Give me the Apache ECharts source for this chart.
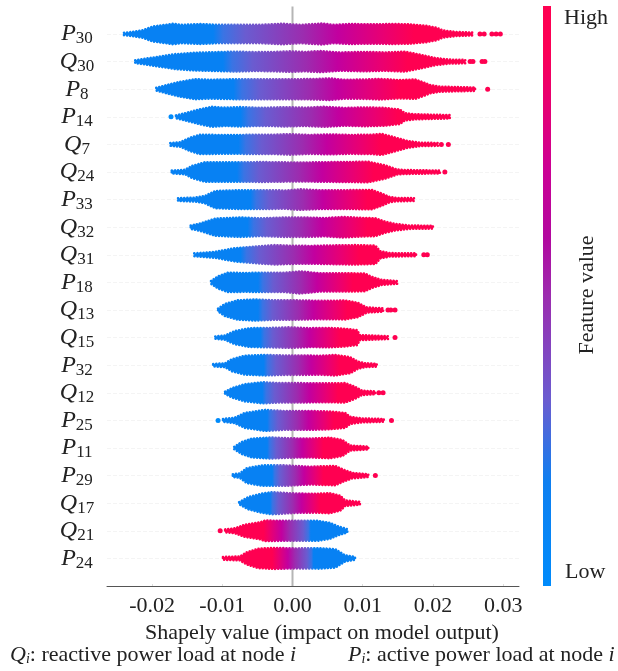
<!DOCTYPE html>
<html><head><meta charset="utf-8">
<style>html,body{margin:0;padding:0;background:#fff}#c{width:618px;height:671px}</style>
<script src="https://cdn.jsdelivr.net/npm/echarts@6/dist/echarts.min.js"></script>
</head><body><div id="c"></div>
<script>
// Feature names, top to bottom: [symbol, node]
const features = [['P','30'],['Q','30'],['P','8'],['P','14'],['Q','7'],['Q','24'],['P','33'],['Q','32'],['Q','31'],['P','18'],['Q','13'],['Q','15'],['P','32'],['Q','12'],['P','25'],['P','11'],['P','29'],['Q','17'],['Q','21'],['P','24']];
const xTicks = [-0.02,-0.01,0,0.01,0.02,0.03];

// Swarm outlines: [SHAP value, half thickness of the swarm in row units]
const P30 = [[-.0240,.04],[-.0230,.07],[-.0213,.14],[-.0199,.27],[-.0170,.37],[-.0157,.33],[-.0132,.36],[-.0107,.33],[-.0071,.33],[-.0046,.33],[-.0014,.37],[.0011,.33],[.0043,.38],[.0058,.33],[.0082,.36],[.0111,.35],[.0143,.36],[.0167,.35],[.0192,.29],[.0206,.22],[.0214,.13],[.0234,.07],[.0256,.05]];
const Q30 = [[-.0224,.05],[-.0203,.13],[-.0167,.27],[-.0139,.32],[-.0110,.34],[-.0082,.36],[-.0053,.34],[-.0025,.35],[-.0004,.37],[.0018,.35],[.0039,.38],[.0068,.33],[.0103,.35],[.0132,.33],[.0160,.36],[.0182,.25],[.0203,.13],[.0224,.07],[.0246,.06]];
const P8 = [[-.0194,.05],[-.0182,.13],[-.0160,.27],[-.0139,.36],[-.0118,.34],[-.0082,.36],[-.0053,.36],[-.0025,.36],[.0004,.36],[.0032,.37],[.0053,.39],[.0075,.34],[.0103,.35],[.0125,.37],[.0153,.33],[.0175,.35],[.0186,.25],[.0196,.15],[.0210,.09],[.0260,.06]];
const P14 = [[-.0166,.05],[-.0153,.13],[-.0132,.27],[-.0115,.36],[-.0096,.33],[-.0075,.35],[-.0053,.33],[-.0032,.33],[-.0011,.35],[.0018,.33],[.0046,.36],[.0075,.32],[.0103,.34],[.0132,.32],[.0153,.26],[.0160,.13],[.0175,.09],[.0224,.06]];
const Q7 = [[-.0174,.05],[-.0160,.08],[-.0146,.24],[-.0132,.35],[-.0103,.34],[-.0075,.34],[-.0053,.35],[-.0025,.35],[-.0004,.37],[.0025,.34],[.0053,.36],[.0082,.34],[.0113,.35],[.0127,.38],[.0146,.25],[.0163,.13],[.0182,.06],[.0207,.05]];
const Q24 = [[-.0172,.05],[-.0153,.08],[-.0143,.22],[-.0125,.35],[-.0096,.35],[-.0068,.35],[-.0043,.36],[-.0018,.35],[.0011,.34],[.0036,.35],[.0068,.36],[.0108,.37],[.0132,.24],[.0149,.09],[.0160,.07],[.0210,.05]];
const P33 = [[-.0163,.05],[-.0139,.07],[-.0125,.13],[-.0110,.31],[-.0075,.34],[-.0039,.34],[-.0011,.33],[.0011,.37],[.0039,.34],[.0075,.34],[.0113,.35],[.0127,.22],[.0139,.09],[.0149,.06],[.0173,.05]];
const Q32 = [[-.0145,.06],[-.0132,.13],[-.0110,.31],[-.0075,.35],[-.0046,.32],[-.0011,.35],[.0018,.35],[.0046,.33],[.0071,.37],[.0096,.34],[.0118,.32],[.0132,.20],[.0146,.12],[.0167,.06],[.0200,.05]];
const Q31 = [[-.0140,.05],[-.0110,.11],[-.0082,.24],[-.0068,.27],[-.0043,.32],[-.0025,.35],[-.0004,.33],[.0025,.32],[.0061,.34],[.0089,.35],[.0118,.33],[.0125,.13],[.0139,.06],[.0176,.05]];
const P18 = [[-.0116,.05],[-.0106,.22],[-.0092,.35],[-.0068,.34],[-.0039,.35],[-.0011,.35],[.0011,.40],[.0039,.33],[.0075,.33],[.0103,.32],[.0113,.20],[.0127,.09],[.0149,.05]];
const Q13 = [[-.0106,.05],[-.0096,.22],[-.0078,.35],[-.0053,.38],[-.0025,.35],[.0004,.35],[.0039,.33],[.0075,.34],[.0093,.26],[.0106,.09],[.0129,.06]];
const Q15 = [[-.0110,.04],[-.0096,.08],[-.0082,.24],[-.0061,.34],[-.0032,.35],[-.0004,.37],[.0025,.34],[.0053,.35],[.0075,.32],[.0092,.27],[.0096,.09],[.0136,.05]];
const P32 = [[-.0113,.04],[-.0096,.07],[-.0086,.22],[-.0068,.34],[-.0039,.37],[-.0011,.35],[.0018,.35],[.0039,.34],[.0061,.37],[.0082,.29],[.0093,.13],[.0103,.07],[.0120,.05]];
const Q12 = [[-.0096,.04],[-.0086,.17],[-.0068,.31],[-.0043,.38],[-.0018,.35],[.0011,.35],[.0046,.34],[.0075,.35],[.0089,.22],[.0099,.08],[.0118,.05]];
const P25 = [[-.0099,.05],[-.0082,.10],[-.0068,.27],[-.0039,.38],[-.0011,.34],[.0025,.34],[.0053,.32],[.0075,.27],[.0082,.13],[.0099,.07],[.0130,.05]];
const P11 = [[-.0083,.04],[-.0072,.22],[-.0058,.34],[-.0032,.38],[-.0004,.35],[.0025,.34],[.0053,.37],[.0071,.29],[.0082,.09],[.0108,.05]];
const P29 = [[-.0085,.05],[-.0075,.08],[-.0065,.27],[-.0043,.37],[-.0011,.37],[.0025,.32],[.0061,.35],[.0072,.22],[.0085,.10],[.0108,.05]];
const Q17 = [[-.0076,.04],[-.0063,.22],[-.0043,.35],[-.0029,.40],[.0004,.35],[.0032,.34],[.0053,.36],[.0068,.27],[.0075,.10],[.0096,.05]];
const Q21 = [[-.0096,.05],[-.0082,.09],[-.0068,.22],[-.0046,.31],[-.0039,.37],[-.0011,.36],[.0011,.36],[.0036,.36],[.0053,.29],[.0065,.16],[.0078,.06]];
const P24 = [[-.0099,.05],[-.0075,.07],[-.0065,.22],[-.0049,.35],[-.0025,.38],[.0004,.36],[.0039,.37],[.0061,.33],[.0075,.11],[.0089,.05]];
const outlines = [P30,Q30,P8,P14,Q7,Q24,P33,Q32,Q31,P18,Q13,Q15,P32,Q12,P25,P11,P29,Q17,Q21,P24];

// Lone points beyond the swarm bodies: [SHAP value, row]
const strays = [[.0267,0],[.0273,0],[.0284,0],[.0290,0],[.0296,0],[.0253,1],[.0257,1],[.0270,1],[.0274,1],[.0278,2],[-.0173,3],[.0212,4],[.0222,4],[.0217,5],[.0187,8],[.0192,8],[.0136,10],[.0140,10],[.0146,10],[.0146,11],[.0123,13],[.0129,13],[-.0106,14],[.0141,14],[.0118,16],[-.0103,18]];

// SHAP value where the colour is still pure "low" and where it reaches pure "high", per row
const lowEdge  = [-.0113,-.0099,-.0084,-.0074,-.0077,-.0079,-.0060,-.0064,-.0074,-.0049,-.0049,-.0046,-.0041,-.0043,-.0036,-.0036,-.0029,-.0032,.0026,.0030];
const highEdge = [.0173,.0164,.0154,.0150,.0126,.0116,.0107,.0107,.0095,.0086,.0078,.0068,.0068,.0065,.0059,.0044,.0044,.0040,-.0041,-.0029];

const ramp = [[0,'#0781f3'],[0.05,'#3a74e4'],[0.16,'#6a5cd0'],[0.45,'#9c2caf'],[0.62,'#c2009f'],[0.85,'#e90072'],[1,'#ff0051']];
const bar  = [[0,'#ff0051'],[0.076,'#fb0056'],[0.28,'#cc0094'],[0.40,'#b2089f'],[0.50,'#9c2caf'],[0.68,'#6a5cd0'],[0.82,'#0f7ff0'],[1,'#008bfb']];

const stops = ramp.map(r => ({offset:r[0], color:r[1]}));
const serif = '"Liberation Serif","Times New Roman",serif';
const note = {q:{font:'italic 22px '+serif,fill:'#222'},i:{font:'italic 14px '+serif,fill:'#222',padding:[8,0,0,0],verticalAlign:'top'},t:{font:'22px '+serif,fill:'#222'},e:{font:'italic 22px '+serif,fill:'#222'}};

const swarm = {
  type:'custom', silent:true, z:3, clip:false,
  data: outlines.map((_, i) => [i]),
  encode:{x:[],y:0},
  renderItem(params, api){
    const i = api.value(0), o = outlines[i];
    const top = o.map(p => api.coord([p[0], i - p[1]]));
    const bot = o.map(p => api.coord([p[0], i + p[1]])).reverse();
    const y = api.coord([0,i])[1];
    const g = {type:'linear', global:true,
      x:api.coord([lowEdge[i],i])[0], y:y,
      x2:api.coord([highEdge[i],i])[0], y2:y,
      colorStops:stops};
    return {type:'polygon', shape:{points:top.concat(bot)},
      style:{fill:g, stroke:g, lineWidth:2.6, lineDash:[0.1,3], lineCap:'round', lineJoin:'round'}};
  }
};

const option = {
  animation:false,
  backgroundColor:'#fff',
  textStyle:{fontFamily:serif},
  grid:{left:107, right:99, top:6.4, bottom:85},
  xAxis:{type:'value', min:-0.02642, max:0.03226, splitLine:{show:false},
    axisLine:{show:true, onZero:false, lineStyle:{color:'#555',width:1}},
    axisTick:{show:true, inside:true, length:2, lineStyle:{color:'#ddd'}, customValues:xTicks},
    axisLabel:{customValues:xTicks, formatter:v=>v.toFixed(2), color:'#222', fontSize:22, margin:9, fontFamily:serif},
    name:'Shapely value (impact on model output)', nameLocation:'middle', nameGap:35,
    nameTextStyle:{color:'#222', fontSize:22, fontFamily:serif, padding:[0,0,0,18]}},
  yAxis:{type:'value', inverse:true, min:-1, max:20, interval:1,
    axisLine:{show:false}, axisTick:{show:false},
    splitLine:{show:true, showMinLine:false, showMaxLine:false, lineStyle:{color:'#f4f4f4',type:'dashed',width:1}},
    axisLabel:{margin:30, align:'center', color:'#222', fontFamily:serif,
      formatter:v=>{const f=features[v]; return f?`{v|${f[0]}}{s|${f[1]}}`:'';},
      rich:{v:{fontSize:24,fontStyle:'italic',fontFamily:serif,color:'#222',verticalAlign:'middle'},
            s:{fontSize:17,fontFamily:serif,color:'#222',verticalAlign:'top',padding:[10,0,0,0]}}}},
  graphic:[
    {type:'rect', shape:{x:543,y:6,width:8,height:580}, style:{fill:{type:'linear',x:0,y:0,x2:0,y2:1,colorStops:bar.map(r=>({offset:r[0],color:r[1]}))}}},
    {type:'text', x:564, y:18, style:{text:'High',font:'22px '+serif,fill:'#222',verticalAlign:'middle'}},
    {type:'text', x:565, y:572, style:{text:'Low',font:'22px '+serif,fill:'#222',verticalAlign:'middle'}},
    {type:'text', x:587, y:295, rotation:Math.PI/2, style:{text:'Feature value',font:'22px '+serif,fill:'#222',align:'center',verticalAlign:'middle'}},
    {type:'text', x:10, y:655, style:{rich:note,text:'{q|Q}{i|i}{t|: reactive power load at node }{e|i}',verticalAlign:'middle'}},
    {type:'text', x:348, y:655, style:{rich:note,text:'{q|P}{i|i}{t|: active power load at node }{e|i}',verticalAlign:'middle'}}
  ],
  series:[
    {type:'line', silent:true, z:1, symbol:'none', data:[[0,-1],[0,20]], lineStyle:{color:'#b5b5b5',width:2}},
    swarm,
    {type:'scatter', silent:true, z:4, data:strays, symbolSize:5,
      itemStyle:{opacity:1, color:p=>{
        const v=p.value, i=v[1], lo=lowEdge[i], hi=highEdge[i], t=(v[0]-lo)/(hi-lo);
        return t<=0?'#008bfb':'#ff0051';}}}
  ]
};
echarts.init(document.getElementById('c'),null,{renderer:'canvas'}).setOption(option);
</script></body></html>
